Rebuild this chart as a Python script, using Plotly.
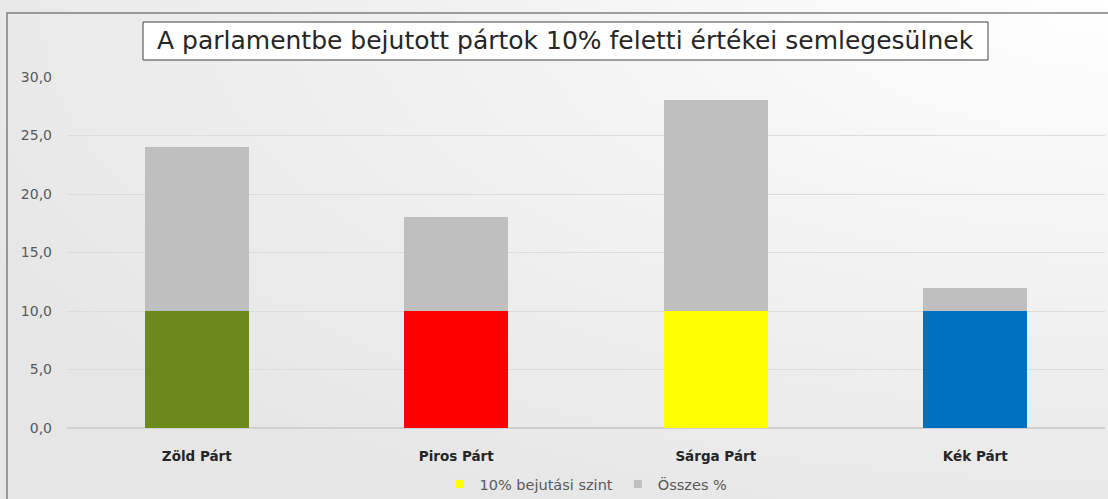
import plotly.graph_objects as go

categories = ["Zöld Párt", "Piros Párt", "Sárga Párt", "Kék Párt"]
threshold = [10, 10, 10, 10]
totals = [24, 18, 28, 12]
bar_colors = ["#6B8A1B", "#FF0000", "#FFFF00", "#0070C0"]
tick_vals = [0, 5, 10, 15, 20, 25, 30]
title_text = "A parlamentbe bejutott pártok 10% feletti értékei semlegesülnek"
legend_names = ["10% bejutási szint", "Összes %"]

above = [t - b for t, b in zip(totals, threshold)]

W, H = 1108, 499
L, R, T, B = 67, 3, 77, 71
pw, ph = W - L - R, H - T - B
FONT = "DejaVu Sans"

def px_to_paper_x(px):
    return (px - L) / pw

def px_to_paper_y(py):
    return (H - B - py) / ph

fig = go.Figure()
fig.add_trace(go.Bar(x=categories, y=threshold, marker=dict(color=bar_colors, line=dict(width=0)),
                     width=0.4, showlegend=False, hoverinfo="skip"))
fig.add_trace(go.Bar(x=categories, y=above, marker=dict(color="#BFBFBF", line=dict(width=0)),
                     width=0.4, showlegend=False, hoverinfo="skip"))
fig.add_trace(go.Scatter(x=[None], y=[None], mode="markers", name=legend_names[0],
                         marker=dict(symbol="square", size=8, color="#FFFF00")))
fig.add_trace(go.Scatter(x=[None], y=[None], mode="markers", name=legend_names[1],
                         marker=dict(symbol="square", size=8, color="#BFBFBF")))

svg = ("data:image/svg+xml;utf8,<svg xmlns='http://www.w3.org/2000/svg' width='1108' height='499'>"
       "<defs><radialGradient id='g' cx='1' cy='0' r='1.15' gradientUnits='objectBoundingBox'>"
       "<stop offset='0' stop-color='%23ffffff'/><stop offset='0.45' stop-color='%23f3f3f3'/>"
       "<stop offset='1' stop-color='%23e6e6e6'/></radialGradient></defs>"
       "<rect width='1108' height='499' fill='url(%23g)'/></svg>")

fig.add_layout_image(dict(source=svg, xref="paper", yref="paper",
                          x=px_to_paper_x(0), y=px_to_paper_y(0),
                          sizex=W / pw, sizey=H / ph, xanchor="left", yanchor="top",
                          sizing="stretch", layer="below"))

# outer chart border
fig.add_shape(type="rect", xref="paper", yref="paper",
              x0=px_to_paper_x(7), x1=px_to_paper_x(1120),
              y0=px_to_paper_y(510), y1=px_to_paper_y(13),
              line=dict(color="#808080", width=1.5), fillcolor="rgba(0,0,0,0)", layer="above")
# title box
fig.add_shape(type="rect", xref="paper", yref="paper",
              x0=px_to_paper_x(143), x1=px_to_paper_x(988),
              y0=px_to_paper_y(60), y1=px_to_paper_y(22),
              line=dict(color="#404040", width=1), fillcolor="#FFFFFF", layer="above")
fig.add_annotation(text=title_text, xref="paper", yref="paper",
                   x=px_to_paper_x(565.5), y=px_to_paper_y(41),
                   xanchor="center", yanchor="middle", showarrow=False,
                   font=dict(family=FONT, size=25, color="#262626"))

fig.update_layout(
    width=W, height=H,
    margin=dict(l=L, r=R, t=T, b=B, pad=0, autoexpand=False),
    barmode="stack",
    paper_bgcolor="#efefef",
    plot_bgcolor="rgba(0,0,0,0)",
    separators=", ",
    showlegend=True,
    legend=dict(orientation="h", x=0.5, xanchor="center", y=px_to_paper_y(484), yanchor="middle",
                traceorder="normal",
                font=dict(family=FONT, size=14.5, color="#595959"),
                bgcolor="rgba(0,0,0,0)", itemwidth=30, tracegroupgap=0),
    xaxis=dict(showgrid=False, showline=False, zeroline=False, ticks="",
               tickfont=dict(family=FONT, size=13.5, color="#262626", weight="bold"),
               ticklabelstandoff=18),
    yaxis=dict(range=[0, 30], tickvals=tick_vals, tickformat=".1f", showgrid=True,
               gridcolor="#DCDCDC", gridwidth=1, zeroline=True, zerolinecolor="#D0D0D0",
               showline=False, ticks="", ticklabelstandoff=14,
               tickfont=dict(family=FONT, size=14, color="#595959")),
)

fig.write_html("out.html", config={"displayModeBar": False})

with open("out.html", "r", encoding="utf-8") as f:
    html = f.read()
html = html.replace("<head>", "<head><style>html,body{margin:0;padding:0;overflow:hidden;}</style>", 1)
with open("out.html", "w", encoding="utf-8") as f:
    f.write(html)
